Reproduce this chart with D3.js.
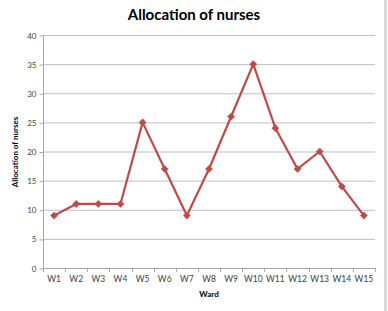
<!DOCTYPE html>
<html><head><meta charset="utf-8">
<script src="https://cdn.jsdelivr.net/npm/d3@7"></script>
<style>body{margin:0;background:#fff;}svg{display:block;}</style>
</head><body>
<script>
const wards = ["W1","W2","W3","W4","W5","W6","W7","W8","W9","W10","W11","W12","W13","W14","W15"];
const nurses = [9,11,11,11,25,17,9,17,26,35,24,17,20,14,9];
const yTicks = [0,5,10,15,20,25,30,35,40];
const title = "Allocation of nurses";
const xTitle = "Ward";
const yTitle = "Allocation of nurses";

const W = 388, H = 311;
const font = "Lato, 'Open Sans', sans-serif";
const svg = d3.select("body").append("svg").attr("width", W).attr("height", H);
svg.append("rect").attr("x",384).attr("y",0).attr("width",3).attr("height",H).attr("fill","#d9d9d9");

const m = {l:43, r:375, t:35, b:268};
const x = d3.scaleBand().domain(wards).range([m.l, m.r]);
const y = d3.scaleLinear().domain([0,40]).range([m.b, m.t]);

// gridlines
svg.append("g").selectAll("line").data(yTicks.filter(d=>d>0)).join("line")
  .attr("x1", m.l).attr("x2", m.r).attr("y1", d=>y(d)+0.5).attr("y2", d=>y(d)+0.5)
  .attr("stroke", "#bfbfbf").attr("stroke-width", 1);

// y axis
const ya = svg.append("g").attr("transform", `translate(${m.l+0.5},0.5)`)
  .call(d3.axisLeft(y).tickValues(yTicks).tickSize(4).tickPadding(3));
ya.select(".domain").attr("stroke","#a6a6a6").attr("d", `M0,${m.t}V${m.b}`);
ya.selectAll(".tick line").attr("stroke","#a6a6a6");
ya.selectAll("text").attr("font-family", font).attr("font-size", 8).attr("fill","#404040");

// x axis
const xa = svg.append("g").attr("transform", `translate(0,${m.b+0.5})`)
  .call(d3.axisBottom(x).tickSize(0).tickPadding(7));
xa.select(".domain").attr("stroke","#a6a6a6").attr("d", `M${m.l},0H${m.r}`);
xa.selectAll("text").attr("font-family", font).attr("font-size", 8.5).attr("fill","#404040");
const bounds = wards.map(w=>x(w)).concat([m.r]);
svg.append("g").selectAll("line").data(bounds).join("line")
  .attr("x1", d=>Math.round(d)+0.5).attr("x2", d=>Math.round(d)+0.5)
  .attr("y1", m.b).attr("y2", m.b+4).attr("stroke","#a6a6a6");

// line
const cx = d => x(d) + x.bandwidth()/2;
const data = wards.map((w,i)=>({w, v:nurses[i]}));
svg.append("path").datum(data)
  .attr("d", d3.line().x(d=>cx(d.w)).y(d=>y(d.v)))
  .attr("fill","none").attr("stroke","#be4b48").attr("stroke-width",2.2).attr("stroke-linejoin","round");
const s = 3.6;
svg.append("g").selectAll("path").data(data).join("path")
  .attr("d", `M0,${-s}L${s},0L0,${s}L${-s},0Z`)
  .attr("transform", d=>`translate(${cx(d.w)},${y(d.v)})`)
  .attr("fill","#be4b48").attr("stroke","#be4b48").attr("stroke-width",0.5);

// titles
svg.append("text").attr("x", 194).attr("y", 20).attr("text-anchor","middle")
  .attr("font-family", font).attr("font-weight","bold").attr("font-size", 15).attr("fill","#000").text(title);
svg.append("text").attr("x", 209).attr("y", 297).attr("text-anchor","middle")
  .attr("font-family", font).attr("font-weight","bold").attr("font-size", 8).attr("fill","#000").text(xTitle);
svg.append("text").attr("transform", "translate(18,152) rotate(-90)").attr("text-anchor","middle")
  .attr("font-family", font).attr("font-weight","bold").attr("font-size", 8).attr("fill","#000").text(yTitle);
</script>
</body></html>
